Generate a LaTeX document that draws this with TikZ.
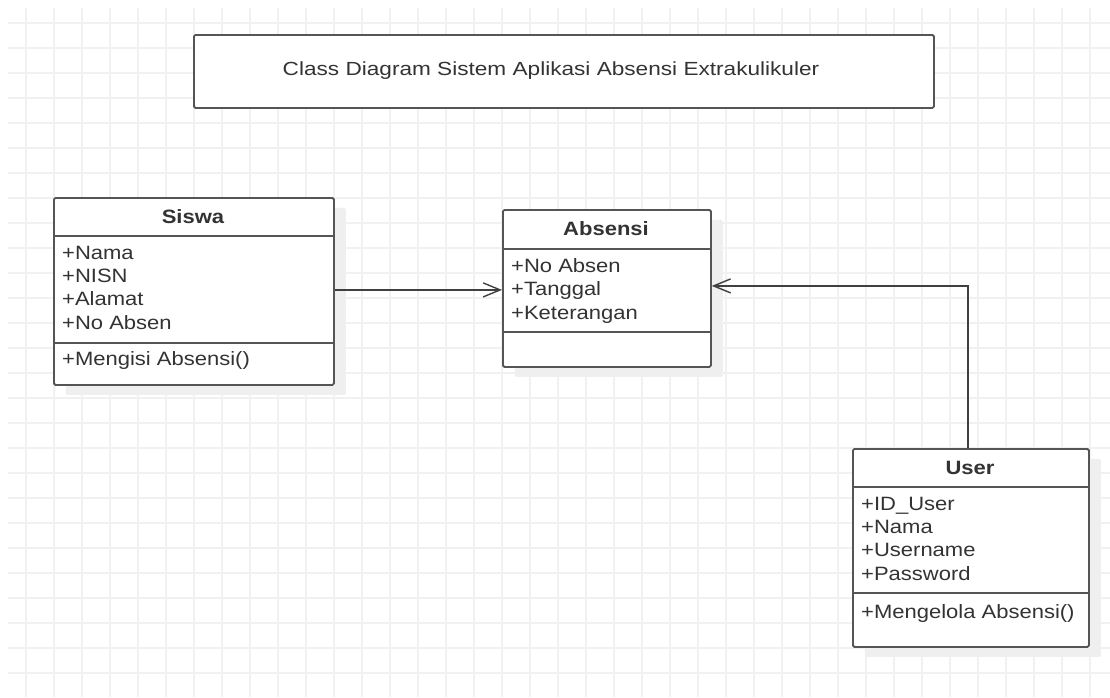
\documentclass[tikz,border=0pt]{standalone}
\usepackage{fontspec}
\setmainfont{Liberation Sans}[FakeStretch=1.14]
\newfontfamily\titlefont{Liberation Sans}[FakeStretch=1.19]
\usetikzlibrary{arrows.meta,shadows}
\definecolor{gridc}{HTML}{F1F1F1}
\definecolor{boxc}{HTML}{555555}
\definecolor{txt}{HTML}{333333}
\definecolor{shad}{HTML}{EFEFEF}
\begin{document}
\begin{tikzpicture}[x=1pt,y=-1pt,
  gridline/.style={draw=gridc, line width=1.6pt},
  plainbox/.style={draw=boxc, line width=1.8pt, fill=white, rounded corners=1.5pt, inner sep=0, anchor=north west},
  umlbox/.style={plainbox, drop shadow={shadow xshift=12pt, shadow yshift=-10pt, fill=shad, opacity=1}},
  divider/.style={draw=boxc, line width=1.8pt},
  cname/.style={font=\fontsize{19.3}{22}\selectfont\bfseries, text=txt, anchor=base, inner sep=0},
  attr/.style={font=\fontsize{19.3}{22}\selectfont, text=txt, anchor=base west, inner sep=0},
  assoc/.style={draw=black!75, line width=1.4pt, -{Straight Barb[length=17pt,width=14pt]}},
]
\useasboundingbox (0,0) rectangle (1110,697);
\fill[white] (0,0) rectangle (1110,697);
% grid
\foreach \i in {0,...,38} \draw[gridline] ({26+28*\i},8) -- ({26+28*\i},697);
\foreach \j in {0,...,26} \draw[gridline] (8,{22.7+25*\j}) -- (1110,{22.7+25*\j});

% title
\node[plainbox, minimum width=740, minimum height=73] (title) at (193,34) {};
\node[font=\titlefont\fontsize{19}{22}\selectfont, text=txt, anchor=base, inner sep=0] (titletext) at (551,75.7) {Class Diagram Sistem Aplikasi Absensi Extrakulikuler};

% Siswa
\node[umlbox, minimum width=280, minimum height=187] (siswa) at (53,197) {};
\draw[divider] (siswa.west |- 0,236) -- (siswa.east |- 0,236);
\draw[divider] (siswa.west |- 0,343) -- (siswa.east |- 0,343);
\node[cname] (siswaname) at (193,223.3) {Siswa};
\node[attr] (siswa1) at (62,259) {+Nama};
\node[attr] (siswa2) at (62,282.3) {+NISN};
\node[attr] (siswa3) at (62,305.6) {+Alamat};
\node[attr] (siswa4) at (62,329) {+No Absen};
\node[attr] (siswam) at (62,365.7) {+Mengisi Absensi()};

% Absensi
\node[umlbox, minimum width=208, minimum height=157] (absensi) at (502,209) {};
\draw[divider] (absensi.west |- 0,249) -- (absensi.east |- 0,249);
\draw[divider] (absensi.west |- 0,332) -- (absensi.east |- 0,332);
\node[cname] (absensiname) at (606,235.7) {Absensi};
\node[attr] (absensi1) at (511,272.3) {+No Absen};
\node[attr] (absensi2) at (511,295.7) {+Tanggal};
\node[attr] (absensi3) at (511,319) {+Keterangan};

% User
\node[umlbox, minimum width=236, minimum height=198] (user) at (852,448) {};
\draw[divider] (user.west |- 0,487) -- (user.east |- 0,487);
\draw[divider] (user.west |- 0,593) -- (user.east |- 0,593);
\node[cname] (username) at (970,474) {User};
\node[attr] (user1) at (861,510) {+ID\_User};
\node[attr] (user2) at (861,533.5) {+Nama};
\node[attr] (user3) at (861,556.7) {+Username};
\node[attr] (user4) at (861,580) {+Password};
\node[attr] (userm) at (861,618.3) {+Mengelola Absensi()};

% connectors
\draw[assoc] ([yshift=1.5pt]siswa.east) -- ([yshift=1.5pt]siswa.east -| absensi.west);
\draw[assoc] ([xshift=-3pt]user.north) |- ([yshift=2.5pt]absensi.east);
\end{tikzpicture}
\end{document}
